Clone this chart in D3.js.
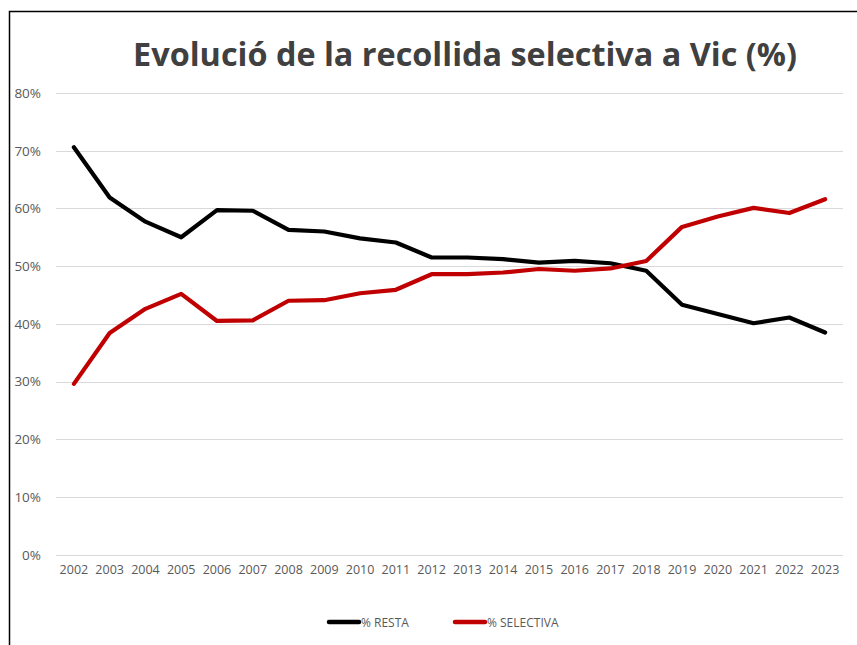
<!DOCTYPE html>
<html><head><meta charset="utf-8">
<script src="https://cdn.jsdelivr.net/npm/d3@7"></script>
<style>body{margin:0;background:#fff;} svg{display:block;}</style>
</head><body>
<script>
const years = ["2002","2003","2004","2005","2006","2007","2008","2009","2010","2011","2012","2013","2014","2015","2016","2017","2018","2019","2020","2021","2022","2023"];
const resta = [70.6,61.9,57.7,55.0,59.7,59.6,56.3,56.0,54.8,54.1,51.5,51.5,51.2,50.6,50.9,50.5,49.2,43.3,41.7,40.1,41.1,38.5];
const selectiva = [29.6,38.4,42.6,45.2,40.5,40.6,44.0,44.1,45.3,45.9,48.6,48.6,48.9,49.5,49.2,49.6,50.9,56.8,58.6,60.1,59.2,61.6];
const yTicks = [0,10,20,30,40,50,60,70,80];
const seriesNames = ["% RESTA","% SELECTIVA"];
const title = "Evolució de la recollida selectiva a Vic (%)";

const W = 857, H = 645;
const svg = d3.select("body").append("svg").attr("width", W).attr("height", H);
svg.append("rect").attr("width", W).attr("height", H).attr("fill", "#fff");
// chart border
svg.append("rect").attr("x", 9.5).attr("y", 11.5).attr("width", W + 20).attr("height", H + 20)
  .attr("fill", "none").attr("stroke", "#000").attr("stroke-width", 1.5);

const x = d3.scaleBand().domain(years).range([56, 843]);
const y = d3.scaleLinear().domain([0, 80]).range([554.7, 93]);

// gridlines
svg.append("g").selectAll("line").data(yTicks).join("line")
  .attr("x1", 56).attr("x2", 843)
  .attr("y1", d => Math.round(y(d)) + 0.5).attr("y2", d => Math.round(y(d)) + 0.5)
  .attr("stroke", "#d9d9d9").attr("stroke-width", 1);

const font = "'Open Sans', sans-serif";
// y axis
const yAxis = svg.append("g").attr("transform", "translate(41,0)")
  .call(d3.axisLeft(y).tickValues(yTicks).tickFormat(d => d + "%").tickSize(0).tickPadding(0));
yAxis.select(".domain").remove();
yAxis.selectAll("text").attr("fill", "#595959").style("font-family", font).style("font-size", "13.5px");

// x axis
const xAxis = svg.append("g").attr("transform", "translate(0,565)")
  .call(d3.axisBottom(x).tickSize(0).tickPadding(0));
xAxis.select(".domain").remove();
xAxis.selectAll("text").attr("fill", "#595959").style("font-family", font).style("font-size", "12.5px");

const line = d3.line().x((d, i) => x(years[i]) + x.bandwidth() / 2).y(d => y(d));
const colors = ["#000000", "#c00000"];
[resta, selectiva].forEach((s, k) => {
  svg.append("path").datum(s).attr("d", line).attr("fill", "none")
    .attr("stroke", colors[k]).attr("stroke-width", 4.2)
    .attr("stroke-linejoin", "round").attr("stroke-linecap", "round");
});

// title
const t = svg.append("text").attr("x", 465).attr("y", 66).attr("text-anchor", "middle")
  .attr("fill", "#404040").style("font-family", font).style("font-weight", "bold")
  .style("font-size", "30px").text(title);
const tw = t.node().getComputedTextLength();
t.style("font-size", (30 * 664 / tw) + "px");

// legend
const legX = [327, 453];
seriesNames.forEach((n, k) => {
  svg.append("line").attr("x1", legX[k] + 2).attr("x2", legX[k] + 32)
    .attr("y1", 622).attr("y2", 622).attr("stroke", colors[k]).attr("stroke-width", 4.5)
    .attr("stroke-linecap", "round");
  svg.append("text").attr("x", legX[k] + 34).attr("y", 626.5).attr("fill", "#595959")
    .style("font-family", font).style("font-size", "12px").text(n);
});
</script>
</body></html>
